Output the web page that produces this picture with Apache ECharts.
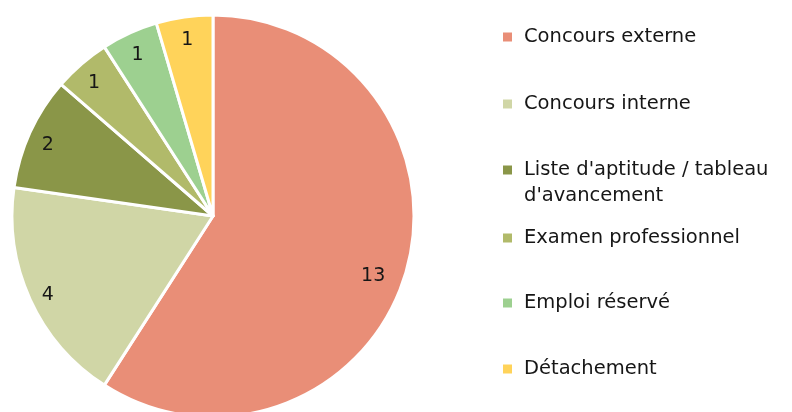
<!DOCTYPE html>
<html>
<head>
<meta charset="utf-8">
<script src="https://cdn.jsdelivr.net/npm/echarts@6/dist/echarts.min.js"></script>
<style>
html, body { margin: 0; padding: 0; background: #fff; }
#main { width: 792px; height: 412px; }
</style>
</head>
<body>
<div id="main"></div>
<script>
var categories = ["Concours externe", "Concours interne", "Liste d'aptitude / tableau d'avancement", "Examen professionnel", "Emploi réservé", "Détachement"];
var values = [13, 4, 2, 1, 1, 1];
var colors = ['#e98e77', '#d0d6a6', '#8a9648', '#b1ba6a', '#9dd090', '#ffd35a'];

var myChart = echarts.init(document.getElementById("main"), null, { renderer: 'canvas' });

var pieData = categories.map(function(name, i) {
	return { name: name, value: values[i], itemStyle: { color: colors[i] } };
});

// une légende par catégorie pour garder l'espacement de l'original
var legendTops = [24, 91, 131, 225, 290, 356];
var legends = categories.map(function(name, i) {
	var twoLines = i === 2;
	return {
		data: [name],
		orient: 'vertical',
		left: 501,
		top: legendTops[i],
		padding: 0,
		itemWidth: 11,
		itemHeight: 11,
		icon: 'rect',
		selectedMode: false,
		// ligne vide en tête : la puce reste alignée sur la première ligne
		formatter: twoLines ? "\nListe d'aptitude / tableau\nd'avancement" : '{name}',
		textStyle: {
			fontFamily: 'DejaVu Sans',
			fontSize: 19.5,
			color: '#161616',
			lineHeight: 26,
			padding: [0, 0, 0, 6]
		}
	};
});

var option = {
	backgroundColor: '#fff',
	animation: false,
	legend: legends,
	series: [{
		type: 'pie',
		center: [213, 216],
		radius: [0, 201],
		startAngle: 90,
		clockwise: true,
		silent: true,
		label: { show: false },
		labelLine: { show: false },
		itemStyle: { borderColor: '#fff', borderWidth: 3 },
		data: pieData
	}, {
		// anneau transparent pour placer les étiquettes
		type: 'pie',
		center: [213, 216],
		radius: [156, 201],
		startAngle: 90,
		clockwise: true,
		silent: true,
		itemStyle: { color: 'rgba(0,0,0,0)' },
		label: {
			show: true,
			position: 'inside',
			formatter: '{c}',
			fontFamily: 'DejaVu Sans',
			fontSize: 19,
			color: '#161616',
			offset: [0, 4]
		},
		labelLine: { show: false },
		data: categories.map(function(name, i) {
			var item = { name: name + ' ', value: values[i] };
			if (i === 0) item.label = { offset: [-14, 9] };
			return item;
		})
	}]
};
myChart.setOption(option);
</script>
</body>
</html>
